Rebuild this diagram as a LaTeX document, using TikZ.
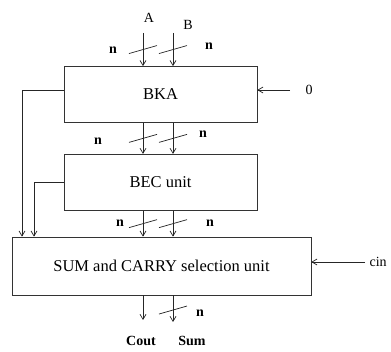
\documentclass[tikz,border=0pt]{standalone}
\usepackage{fontspec}
\setmainfont{Liberation Serif}
\usetikzlibrary{positioning, arrows.meta, decorations.markings}

\begin{document}
\begin{tikzpicture}[
    x=1pt, y=-1pt,
    node distance=31pt,
    unit/.style={rectangle, draw=black!80, line width=0.8pt, minimum width=193pt, minimum height=56pt, align=center, font=\fontsize{16.5}{18}\selectfont},
    arrow/.style={draw=black!85, -{Straight Barb[length=5pt, width=6pt]}, line width=0.7pt},
    bus/.style={arrow, postaction={decorate}, decoration={markings, mark=at position #1 with {\draw[-, black!85, line width=0.7pt] (4pt,-14pt) -- (-4pt,14pt);}}},
    bus/.default=0.5,
    width/.style={font=\fontsize{14}{16}\selectfont\bfseries},
    signal/.style={font=\fontsize{14}{16}\selectfont}
  ]
    \useasboundingbox (0,0) rectangle (391,352);

    \node[unit] (bka) at (160.5,94.5) {BKA};
    \node[unit, below=of bka] (bec) {BEC unit};
    \node[unit, minimum width=299pt, minimum height=58pt] (sel) at (161.5,266) {SUM and CARRY selection unit};

    % operands A and B
    \coordinate (a) at (143,33);
    \coordinate (b) at (173,33);
    \node[signal] (la) at (149,18) {A};
    \node[signal] (lb) at (188,25) {B};
    \draw[bus=0.5] (a) -- (a |- bka.north);
    \draw[bus=0.5] (b) -- (b |- bka.north);
    \node[width] (n1) at (113,50) {n};
    \node[width] (n2) at (209,46) {n};

    % carry in of the BKA
    \coordinate (zero) at (290,90);
    \draw[arrow] (zero) -- (zero -| bka.east);
    \node[signal, anchor=west] (lzero) at (zero) [xshift=12pt] {0};

    % BKA to BEC
    \draw[bus] (bka.south -| a) -- (bec.north -| a);
    \draw[bus] (bka.south -| b) -- (bec.north -| b);
    \node[width] (n3) at (98,141) {n};
    \node[width] (n4) at (203,134) {n};

    % BEC to selection unit
    \draw[bus] (bec.south -| a) -- (sel.north -| a);
    \draw[bus] (bec.south -| b) -- (sel.north -| b);
    \node[width] (n5) at (120,223) {n};
    \node[width] (n6) at (210,223) {n};

    % outputs of BKA and BEC to the selection unit
    \coordinate (fbka) at (22,90);
    \coordinate (fbec) at (34,182);
    \draw[arrow] (fbka -| bka.west) -- (fbka) -- (fbka |- sel.north);
    \draw[arrow] (fbec -| bec.west) -- (fbec) -- (fbec |- sel.north);

    % carry in of the selection unit
    \coordinate (cin) at (365,262);
    \draw[arrow] (cin) -- (cin -| sel.east);
    \node[signal, anchor=west] (lcin) at (cin) [xshift=1pt] {cin};

    % outputs
    \coordinate (cout) at (143,320);
    \coordinate (sum) at (173,322);
    \draw[arrow] (sel.south -| cout) -- (cout);
    \draw[bus=0.55] (sel.south -| sum) -- (sum);
    \node[width] (n7) at (200,313) {n};
    \node[width] (lcout) at (141,341) {Cout};
    \node[width] (lsum) at (192,341) {Sum};
\end{tikzpicture}
\end{document}
